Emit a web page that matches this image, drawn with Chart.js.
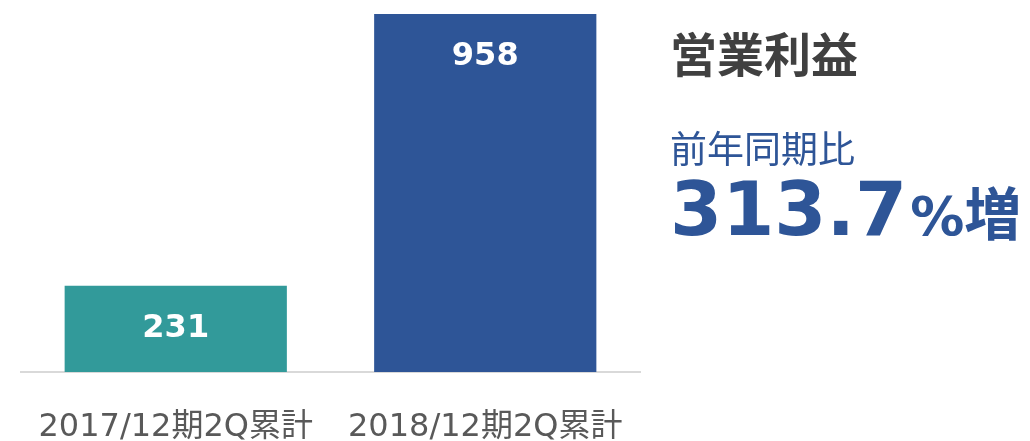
<!DOCTYPE html>
<html>
<head>
<meta charset="utf-8">
<script src="https://cdn.jsdelivr.net/npm/chart.js@4/dist/chart.umd.min.js"></script>
<style>
  html, body { margin: 0; padding: 0; background: #fff; }
  #wrap { position: relative; width: 1030px; height: 441px; overflow: hidden; }
  #wrap canvas { position: absolute; left: 0; top: 0; }
  .txt { position: absolute; left: 670px; white-space: nowrap; }
  #title { top: 28px; font: bold 47px "Noto Sans CJK JP"; line-height: 47px; color: #404040; }
  #sub { top: 129px; font: 37px "Noto Sans CJK JP"; line-height: 37px; color: #2e5597; }
  #pct { top: 169px; font: bold 75px "DejaVu Sans"; line-height: 75px; color: #2e5597; }
  #pct .p { font-size: 54px; margin-left: 3px; }
  #pct .z { font: bold 57px "Noto Sans CJK JP"; }
</style>
</head>
<body>
<div id="wrap">
  <canvas id="salesChart" width="1030" height="441"></canvas>
  <div class="txt" id="title">営業利益</div>
  <div class="txt" id="sub">前年同期比</div>
  <div class="txt" id="pct">313.7<span class="p">%</span><span class="z">増</span></div>
</div>
<script>
const categories = ["2017/12期2Q累計", "2018/12期2Q累計"];
const values = [231, 958];
const barColors = ["#329a9a", "#2e5597"];

// white value labels near the top of each bar
const valueLabels = {
    id: "valueLabels",
    afterDatasetsDraw(chart) {
        const c = chart.ctx;
        const meta = chart.getDatasetMeta(0);
        c.save();
        c.fillStyle = "#ffffff";
        c.font = "bold 32px 'DejaVu Sans'";
        c.textAlign = "center";
        c.textBaseline = "middle";
        meta.data.forEach((bar, i) => {
            c.fillText(String(values[i]), bar.x, bar.y + 43);
        });
        c.restore();
    }
};

const ctx = document.getElementById("salesChart").getContext("2d");
const chart = new Chart(ctx, {
    type: "bar",
    data: {
        labels: categories,
        datasets: [{
            data: values,
            backgroundColor: barColors,
            borderWidth: 0,
            barPercentage: 1,
            categoryPercentage: 0.718
        }]
    },
    options: {
        responsive: false,
        animation: false,
        layout: { padding: { left: 21, right: 390, top: 14, bottom: 0 } },
        plugins: {
            legend: { display: false },
            tooltip: { enabled: false }
        },
        scales: {
            x: {
                grid: { display: false, drawTicks: false },
                border: { display: true, color: "#d9d9d9", width: 2 },
                ticks: {
                    color: "#595959",
                    font: { family: "'DejaVu Sans', 'Noto Sans CJK JP'", size: 32 },
                    padding: 36,
                    maxRotation: 0
                },
                afterFit(scale) {
                    scale.height = 69;
                    scale.paddingLeft = 0;
                    scale.paddingRight = 0;
                }
            },
            y: {
                display: false,
                min: 0,
                max: 958
            }
        }
    },
    plugins: [valueLabels]
});
</script>
</body>
</html>
